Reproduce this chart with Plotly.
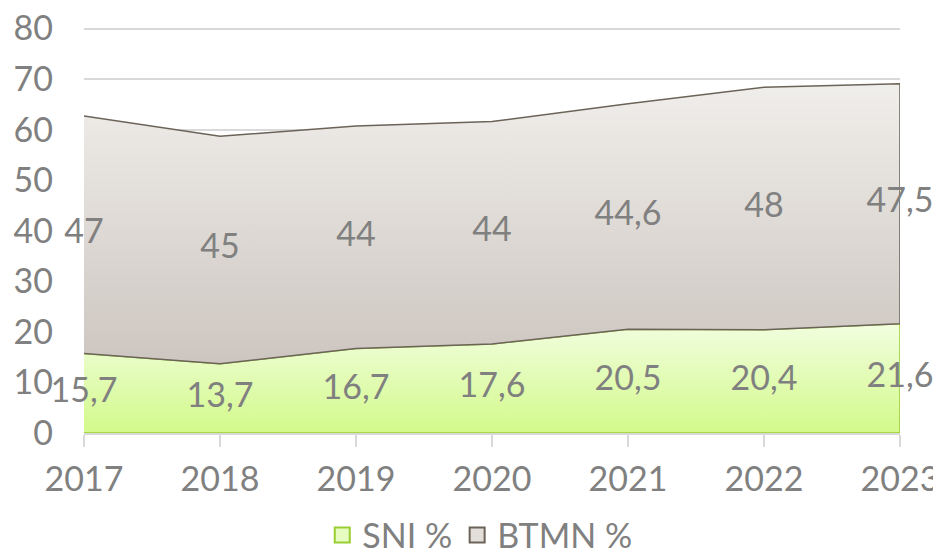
import plotly.graph_objects as go

years = [2017, 2018, 2019, 2020, 2021, 2022, 2023]
sni = [15.7, 13.7, 16.7, 17.6, 20.5, 20.4, 21.6]
btmn = [47, 45, 44, 44, 44.6, 48, 47.5]
y_ticks = [0, 10, 20, 30, 40, 50, 60, 70, 80]

def fmt(v):
    s = ("%g" % v)
    return s.replace(".", ",")

total = [a + b for a, b in zip(sni, btmn)]
FONT = "Lato"
GRAY_TXT = "#808080"

fig = go.Figure()

# SNI area (closed polygon down to zero)
fig.add_trace(go.Scatter(
    x=years + [years[-1], years[0]],
    y=sni + [0, 0],
    fill="toself",
    mode="lines",
    line=dict(color="#9acd32", width=1.5),
    fillgradient=dict(type="vertical",
                      colorscale=[[0, "#d3f98a"], [1, "#f1fedf"]]),
    showlegend=False, hoverinfo="skip",
))

# BTMN area (band between SNI and total)
fig.add_trace(go.Scatter(
    x=years + years[::-1],
    y=total + sni[::-1],
    fill="toself",
    mode="lines",
    line=dict(color="#6b6358", width=1.5),
    fillgradient=dict(type="vertical",
                      colorscale=[[0, "#cdc6c0"], [1, "#f0eeeb"]]),
    showlegend=False, hoverinfo="skip",
))

# Data labels at band midpoints
fig.add_trace(go.Scatter(
    x=years, y=[v / 2 for v in sni], mode="text",
    text=[fmt(v) for v in sni], textposition="middle center",
    textfont=dict(family=FONT, size=34, color=GRAY_TXT),
    showlegend=False, hoverinfo="skip", cliponaxis=False,
))
fig.add_trace(go.Scatter(
    x=years, y=[s + b / 2 for s, b in zip(sni, btmn)], mode="text",
    text=[fmt(v) for v in btmn], textposition="middle center",
    textfont=dict(family=FONT, size=34, color=GRAY_TXT),
    showlegend=False, hoverinfo="skip", cliponaxis=False,
))

# Legend entries
fig.add_trace(go.Scatter(
    x=[None], y=[None], mode="markers", name="SNI %",
    marker=dict(symbol="square", size=15, color="#e6fcc0",
                line=dict(color="#9acd32", width=2)),
))
fig.add_trace(go.Scatter(
    x=[None], y=[None], mode="markers", name="BTMN %",
    marker=dict(symbol="square", size=15, color="#e2deda",
                line=dict(color="#6b6358", width=2)),
))

fig.update_layout(
    width=933, height=541,
    margin=dict(l=76, r=41, t=19, b=116, autoexpand=False),
    paper_bgcolor="white", plot_bgcolor="white",
    font=dict(family=FONT, size=34, color=GRAY_TXT),
    xaxis=dict(
        range=[years[0], years[-1]], tickvals=years,
        ticktext=[str(y) for y in years],
        showgrid=False, zeroline=False, automargin=False,
        showline=True, linecolor="#d9d9d9", linewidth=1.5,
        ticks="outside", ticklen=12, tickcolor="#d9d9d9", tickwidth=1.5,
        ticklabelstandoff=3, ticklabeloverflow="allow",
        tickfont=dict(family=FONT, size=34, color=GRAY_TXT),
        layer="above traces",
    ),
    yaxis=dict(
        range=[0, 80.3], tickvals=y_ticks, automargin=False,
        showgrid=True, gridcolor="#d9d9d9", gridwidth=1.5,
        zeroline=False, showline=False, ticks="",
        ticklabelstandoff=30, ticklabeloverflow="allow",
        tickfont=dict(family=FONT, size=34, color=GRAY_TXT),
    ),
    legend=dict(
        orientation="h", x=0.485, xanchor="center", y=-0.252, yanchor="middle",
        font=dict(family=FONT, size=34, color=GRAY_TXT),
        itemwidth=30, tracegroupgap=0,
    ),
)

fig.write_html("out.html")
